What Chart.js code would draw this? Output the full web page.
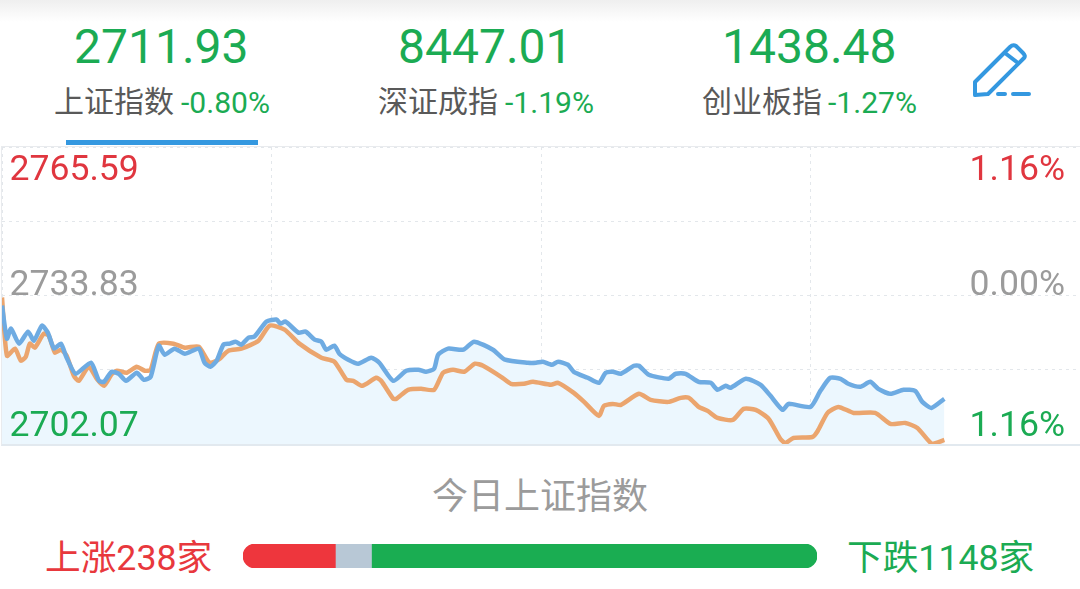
<!DOCTYPE html>
<html>
<head>
<meta charset="utf-8">
<script src="https://cdn.jsdelivr.net/npm/chart.js@4"></script>
<style>
  html, body { margin: 0; padding: 0; background: #fff; }
  body { width: 1080px; height: 589px; position: relative; overflow: hidden; font-family: Roboto, "Noto Sans CJK SC", sans-serif; }
  .shade { position: absolute; left: 0; top: 0; width: 1080px; height: 22px; background: linear-gradient(#efefef, #fff); }
  .txt { position: absolute; white-space: nowrap; line-height: 1; }
  .green { color: #1bab53; }
  .red { color: #e0363f; }
  .gray { color: #9b9b9b; }
  .name { color: #595959; }
  .tab { position: absolute; left: 66px; top: 140px; width: 192px; height: 5px; background: #3498e0; }
  #chartBox { position: absolute; left: 1px; top: 146px; width: 1078px; height: 297px; border: 1px solid #e9ebee; border-bottom: 2px solid #e2e9ef; }
  #barBox { position: absolute; left: 243px; top: 544px; width: 574px; height: 24px; }
  svg { position: absolute; left: 970px; top: 40px; }
</style>
</head>
<body>
<div class="shade"></div>

<div class="txt green" style="left:74px;top:23px;font-size:48px">2711.93</div>
<div class="txt green" style="left:398px;top:23px;font-size:48px">8447.01</div>
<div class="txt green" style="left:722px;top:23px;font-size:48px">1438.48</div>

<div class="txt name" style="left:54px;top:87px;font-size:30px">上证指数</div>
<div class="txt green" style="left:181px;top:88px;font-size:30.1px">-0.80%</div>
<div class="txt name" style="left:378px;top:87px;font-size:30px">深证成指</div>
<div class="txt green" style="left:505px;top:88px;font-size:30.1px">-1.19%</div>
<div class="txt name" style="left:702px;top:87px;font-size:30px">创业板指</div>
<div class="txt green" style="left:828px;top:88px;font-size:30.1px">-1.27%</div>
<div class="tab"></div>

<svg width="64" height="64" viewBox="0 0 64 64" fill="none" stroke="#3498e0" stroke-width="4" stroke-linejoin="round" stroke-linecap="round">
  <path d="M5 42 L40 7 Q43 4 46 6 L53 13 Q56 16 54 18 L18 54 L5 55 Z"/>
  <path d="M35 13 L48 23"/>
  <path d="M28 54 L35 54 M43 54 L59 54"/>
</svg>

<div id="chartBox"><canvas id="lineChart"></canvas></div>

<div class="txt red" style="left:9.5px;top:151px;font-size:35.6px">2765.59</div>
<div class="txt gray" style="left:9.5px;top:266px;font-size:35.6px">2733.83</div>
<div class="txt green" style="left:9.5px;top:407px;font-size:35.6px">2702.07</div>
<div class="txt red" style="right:15px;top:151px;font-size:35.6px">1.16%</div>
<div class="txt gray" style="right:15px;top:266px;font-size:35.6px">0.00%</div>
<div class="txt green" style="right:15px;top:407px;font-size:35.6px">1.16%</div>

<div class="txt gray" style="left:432px;top:479px;font-size:36px">今日上证指数</div>

<div class="txt red" style="left:45px;top:541px;font-size:35.7px;color:#e8383d">上涨238家</div>
<div id="barBox"><canvas id="barChart"></canvas></div>
<div class="txt green" style="left:847px;top:541px;font-size:35.7px">下跌1148家</div>

<script>
// minutes since the open, 240 = close
const indexMinutes = [0,1.1,2,3.8,5.8,7.1,8.9,10.2,11.6,13.1,14.4,16.4,19.8,21.6,22.7,24.4,26,27.6,30,31.6,33.1,34.9,36.2,38.4,40.7,43.8,45.1,46.4,47.8,49.3,50.7,52,53.3,54.9,56.2,58.9,61.1,62,63.1,66,67.6,69.6,71.1,72.2,74,75.1,77.1,79.3,82.2,84,87.1,90,92.7,94.4,96.2,97.1,99.3,102.7,105.1,109.3,112,117.1,118.9,120.4,122.4,123.8,126,127.3,130.4,132.9,134.4,136,137.8,140.7,141.8,144,148.4,150,152.2,155.1,157.8,159.3,161.1,162.2,165.6,168.9,171.1,173.8,175.1,180,182.2,184.4,186.7,188.4,191.1,193.3,195.1,197.8,200.7,203.3,204.9,206.9,209.8];
const indexValues = [2731.68,2724.60,2726.75,2723.53,2726.10,2724.17,2727.39,2725.89,2722.46,2723.53,2720.52,2717.09,2719.45,2715.59,2715.37,2717.52,2717.09,2715.59,2717.31,2715.80,2716.45,2723.10,2721.17,2722.46,2721.38,2722.46,2719.45,2718.59,2719.88,2723.31,2723.53,2723.96,2723.31,2724.82,2725.03,2728.25,2728.68,2727.82,2728.25,2725.89,2726.10,2724.39,2723.96,2722.24,2723.10,2721.38,2720.10,2719.24,2720.52,2719.45,2715.59,2717.73,2717.95,2717.52,2718.16,2721.17,2722.46,2722.24,2723.96,2722.24,2720.10,2719.45,2719.45,2719.67,2719.02,2719.67,2719.02,2717.52,2716.23,2715.16,2717.31,2717.52,2717.09,2718.81,2718.81,2716.88,2716.02,2717.09,2717.09,2715.37,2715.16,2713.66,2714.52,2714.09,2716.02,2714.73,2712.37,2709.37,2710.65,2710.01,2713.44,2716.23,2716.02,2714.95,2714.30,2715.37,2713.87,2712.80,2713.66,2713.44,2711.08,2709.79,2711.73];

const avgMinutes = [0,1.1,2.9,4.2,5.3,6.2,7.3,9.3,10.4,11.8,13.1,14.4,16,17.1,19.3,21.1,22.7,24.4,25.6,27.8,30,31.8,33.1,34.9,38.2,40.7,43.8,46.2,48.2,50.4,53.3,57.1,59.6,62.9,66.2,71.1,74,76.7,78.2,80.2,83.3,84.4,87.1,87.8,90.4,93.3,96.2,98.2,100.4,102.9,105.3,107.1,111.1,113.3,116.2,118.2,122.2,123.8,127.3,129.6,132.9,134,136,137.8,141.8,144.4,148.4,151.1,152.9,155.1,157.1,159.3,162.7,165.1,167.8,170.7,173.3,174.4,176.2,180.4,181.6,183.8,186.2,189.6,194.4,197.8,201.1,203.8,207.1,209.8];
const avgValues = [2733.40,2720.95,2722.46,2719.88,2720.74,2723.53,2722.67,2725.68,2725.25,2721.60,2722.24,2720.95,2716.66,2715.59,2718.59,2716.02,2714.52,2716.97,2717.73,2717.31,2718.59,2717.73,2717.95,2723.53,2723.53,2722.67,2722.89,2719.45,2720.10,2722.03,2722.46,2724.17,2727.39,2726.53,2723.53,2720.52,2719.67,2715.80,2715.59,2714.52,2716.23,2715.59,2711.73,2711.73,2713.66,2713.87,2713.66,2717.31,2717.95,2717.52,2719.24,2718.81,2716.45,2714.95,2714.95,2715.37,2714.73,2715.16,2713.01,2711.08,2708.08,2710.22,2710.65,2710.44,2712.80,2711.51,2711.08,2711.94,2711.94,2710.01,2709.15,2707.65,2707.22,2709.58,2709.37,2707.43,2703.14,2702.28,2703.36,2703.57,2704.86,2708.72,2710.01,2708.72,2708.72,2706.36,2706.58,2705.50,2702.07,2702.93];

const yTicks = [2702.07,2717.95,2733.83,2749.71,2765.59];
const xTicks = [0,60,120,180,240];

const upCount = 238;
const flatCount = 93;
const downCount = 1148;

function toPoints(xs, ys) {
  return xs.map((x, i) => ({ x: x, y: ys[i] }));
}

new Chart(document.getElementById('lineChart').getContext('2d'), {
  type: 'line',
  data: {
    datasets: [
      {
        data: toPoints(indexMinutes, indexValues),
        borderColor: '#6eabe2',
        borderWidth: 4.5,
        pointRadius: 0,
        tension: 0.2,
        fill: 'start',
        backgroundColor: '#ecf7fe'
      },
      {
        data: toPoints(avgMinutes, avgValues),
        borderColor: '#eba56e',
        borderWidth: 4.5,
        pointRadius: 0,
        tension: 0.2,
        fill: false
      }
    ]
  },
  options: {
    responsive: true,
    maintainAspectRatio: false,
    animation: false,
    layout: { padding: 0 },
    plugins: {
      legend: { display: false },
      tooltip: { enabled: false },
      filler: { drawTime: 'beforeDatasetsDraw' } // keep the fill under the orange line
    },
    scales: {
      x: {
        type: 'linear',
        min: 0,
        max: 240,
        afterBuildTicks: axis => { axis.ticks = xTicks.map(v => ({ value: v })); },
        ticks: { display: false },
        border: { display: false, dash: [3, 4] },
        grid: { color: '#e3e7eb', drawTicks: false }
      },
      y: {
        min: 2702.07,
        max: 2765.59,
        afterBuildTicks: axis => { axis.ticks = yTicks.map(v => ({ value: v })); },
        ticks: { display: false },
        border: { display: false, dash: [3, 4] },
        grid: { color: '#e3e7eb', drawTicks: false }
      }
    }
  }
});

new Chart(document.getElementById('barChart').getContext('2d'), {
  type: 'bar',
  data: {
    labels: ['涨跌'],
    datasets: [
      { data: [upCount], backgroundColor: '#ee363d', borderSkipped: false, borderRadius: { topLeft: 12, bottomLeft: 12 } },
      { data: [flatCount], backgroundColor: '#b8c8d6', borderSkipped: false, borderRadius: 0 },
      { data: [downCount], backgroundColor: '#1aad52', borderSkipped: false, borderRadius: { topRight: 12, bottomRight: 12 } }
    ]
  },
  options: {
    indexAxis: 'y',
    responsive: true,
    maintainAspectRatio: false,
    animation: false,
    layout: { padding: 0 },
    plugins: { legend: { display: false }, tooltip: { enabled: false } },
    datasets: { bar: { barPercentage: 1, categoryPercentage: 1 } },
    scales: {
      x: { stacked: true, display: false, min: 0, max: upCount + flatCount + downCount },
      y: { stacked: true, display: false }
    }
  }
});
</script>
</body>
</html>
